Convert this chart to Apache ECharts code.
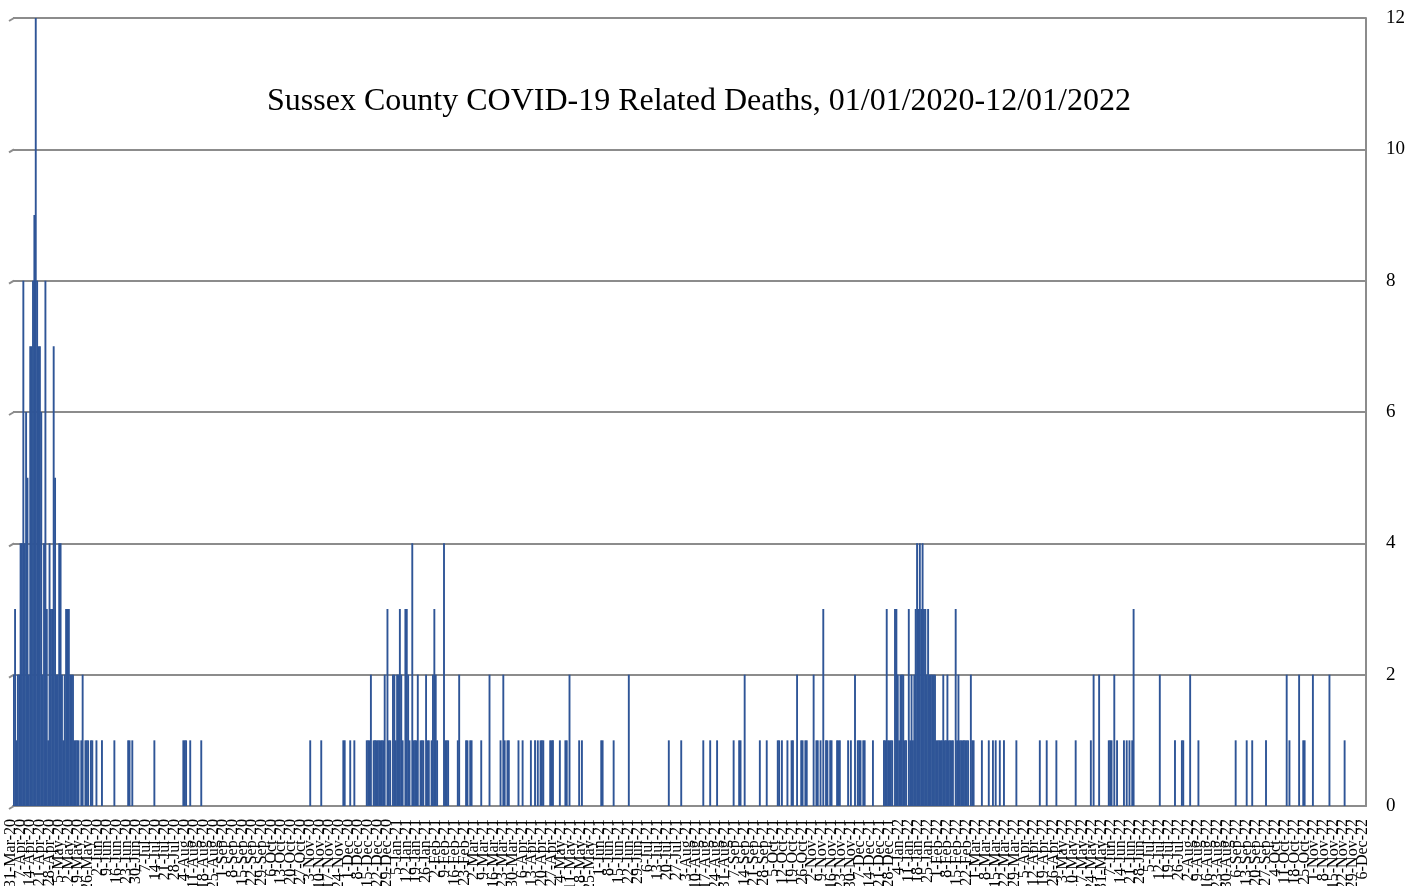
<!DOCTYPE html>
<html>
<head>
<meta charset="utf-8">
<script src="https://cdn.jsdelivr.net/npm/echarts@6/dist/echarts.min.js"></script>
<style>
  html, body { margin: 0; padding: 0; background: #ffffff; }
  #chart { width: 1425px; height: 886px; }
</style>
</head>
<body>
<div id="chart"></div>
<script>
// ---- Data (daily COVID-19 related deaths, Sussex County) ----
const titleText = 'Sussex County COVID-19 Related Deaths, 01/01/2020-12/01/2022';
const startDate = '2020-03-31';   // first category on the axis
const endDate   = '2022-12-06';   // last category on the axis
const yTicks = [0, 2, 4, 6, 8, 10, 12];

// Days with deaths, given as day offset from startDate, and the count on that day.
// All other days: 0.
const wave1Days   = [0,1,2,3,4,5,6,7,8,9,10,11,12,13,14,15,16,17,18,19,20,21,22,23,24,25,26,27,28,29,30,31,32,33,34,35,36,37,38,39,40,41,42,43,44,45,46,47,49,50,52,53,54,56,57,60,64,73,83,84,86,102,123,124,125,128,136];
const wave1Deaths = [2,3,1,2,2,4,4,8,4,6,5,2,7,7,8,9,12,8,7,7,6,2,4,8,3,1,4,3,3,7,5,2,2,4,4,2,1,2,3,3,3,2,2,2,1,1,1,1,1,2,1,1,1,1,1,1,1,1,1,1,1,1,1,1,1,1,1];

const wave2Days   = [215,223,239,240,244,247,256,257,258,259,261,262,263,264,265,266,267,268,269,271,272,273,275,276,277,278,279,280,281,282,284,285,286,287,289,290,291,292,293,295,296,297,299,300,301,303,304,305,306,307,312,313,314,315,322,323,328,329,331,332,339,345,353,355,356,358,359,366,369,375,378,380,382,383,384,389,390,391,396,400,401,403,410,412,426,427,435,446];
const wave2Deaths = [1,1,1,1,1,1,1,1,1,2,1,1,1,1,1,1,1,1,2,3,1,1,2,2,1,2,2,3,2,1,3,3,2,1,4,1,1,1,2,1,1,1,2,1,1,1,2,3,2,1,4,1,1,1,1,2,1,1,1,1,1,2,1,2,1,1,1,1,1,1,1,1,1,1,1,1,1,1,1,1,1,2,1,1,1,1,1,2];

const wave3Days   = [475,484,500,505,510,522,526,527,530,541,546,554,555,557,561,564,565,568,571,572,574,575,580,582,583,585,587,589,590,592,593,597,598,599,605,607,610,612,613,614,616,617,623,631,632,633,634,635,636,637,639,640,641,642,643,644,645,646,647,649,650,651,652,653,654,655,656,657,658,659,660,661,662,663,664,665,666,667,668,669,670,671,672,673,674,675,676,677,678,679,680,681,683,684,685,686,687,688,689,690,691,692,694,695,696,702,707,710,712,715,718,727];
const wave3Deaths = [1,1,1,1,1,1,1,1,2,1,1,1,1,1,1,1,1,2,1,1,1,1,2,1,1,1,3,1,1,1,1,1,1,1,1,1,2,1,1,1,1,1,1,1,1,3,1,1,1,1,3,3,2,1,2,2,2,1,1,3,1,2,1,2,3,4,3,4,3,4,3,3,2,3,2,2,2,2,2,1,1,1,1,1,2,1,1,2,1,1,1,1,3,1,2,1,1,1,1,1,1,1,2,1,1,1,1,1,1,1,1,1];

const wave4Days   = [744,749,756,770,781,783,787,794,795,796,798,800,805,807,809,811,812,831,842,847,848,853,859,886,894,898,908,923,925,932,935,936,942,954,965];
const wave4Deaths = [1,1,1,1,1,2,2,1,1,1,2,1,1,1,1,1,3,2,1,1,1,2,1,1,1,1,1,2,1,2,1,1,2,2,1];

// ---- Build daily categories and values ----
const MONTHS = ['Jan','Feb','Mar','Apr','May','Jun','Jul','Aug','Sep','Oct','Nov','Dec'];
function parseUTC(s) { const p = s.split('-').map(Number); return Date.UTC(p[0], p[1] - 1, p[2]); }
const DAY = 86400000;
const t0 = parseUTC(startDate), t1 = parseUTC(endDate);
const categories = [];
for (let t = t0; t <= t1; t += DAY) {
  const d = new Date(t);
  categories.push(d.getUTCDate() + '-' + MONTHS[d.getUTCMonth()] + '-' + String(d.getUTCFullYear()).slice(2));
}
const values = new Array(categories.length).fill(0);
[[wave1Days, wave1Deaths], [wave2Days, wave2Deaths], [wave3Days, wave3Deaths], [wave4Days, wave4Deaths]]
  .forEach(([days, deaths]) => days.forEach((d, i) => { values[d] = deaths[i]; }));

// ---- Chart ----
const GRID = { left: 13, right: 59, top: 18, bottom: 80, containLabel: false, outerBoundsMode: 'none' };
const GRAY = '#8c8c8c';
const labelStyle = {
  rotate: 90,
  margin: 13,
  verticalAlign: 'bottom',
  lineHeight: 6,
  fontFamily: 'Liberation Serif',
  fontSize: 16,
  color: '#000'
};
// weekly labels are split over two axes (even / odd weeks) so ECharts never drops overlapping neighbours
function weeklyAxis(parity, showLine) {
  return {
    type: 'category',
    gridIndex: 0,
    position: 'bottom',
    data: categories,
    boundaryGap: true,
    axisLine: { show: showLine, lineStyle: { color: GRAY, width: 2 } },
    axisTick: { show: false },
    splitLine: { show: false },
    axisLabel: Object.assign({}, labelStyle, {
      interval: (idx) => idx % 14 === parity * 7
    })
  };
}
const chart = echarts.init(document.getElementById('chart'), null, { renderer: 'canvas' });
chart.setOption({
  animation: false,
  backgroundColor: '#ffffff',
  title: {
    text: titleText,
    left: 694,
    top: 81,
    textAlign: 'center',
    textStyle: { fontFamily: 'Liberation Serif', fontSize: 32, fontWeight: 'normal', color: '#000' }
  },
  grid: GRID,
  xAxis: [weeklyAxis(0, true), weeklyAxis(1, false)],
  yAxis: {
    type: 'value',
    position: 'right',
    min: yTicks[0],
    max: yTicks[yTicks.length - 1],
    interval: 2,
    axisLine: { show: true, lineStyle: { color: GRAY, width: 2 } },
    axisTick: { show: false },
    axisLabel: { margin: 20, fontFamily: 'Liberation Serif', fontSize: 19, color: '#000' },
    splitLine: { show: true, lineStyle: { color: GRAY, width: 2 } }
  },
  series: [{
    type: 'bar',
    xAxisIndex: 0,
    data: values,
    barWidth: 1.9,
    itemStyle: { color: '#2f5597' }
  }]
});

// small slanted stubs at the left end of each gridline (3-D wall edge)
const stubs = yTicks.map(v => {
  const p = chart.convertToPixel({ gridIndex: 0 }, [0, v]);
  const x0 = GRID.left;
  return { type: 'line', shape: { x1: x0 - 4, y1: p[1] + 3, x2: x0 + 1, y2: p[1] }, style: { stroke: GRAY, lineWidth: 2 }, silent: true };
});
chart.setOption({ graphic: stubs });
</script>
</body>
</html>
